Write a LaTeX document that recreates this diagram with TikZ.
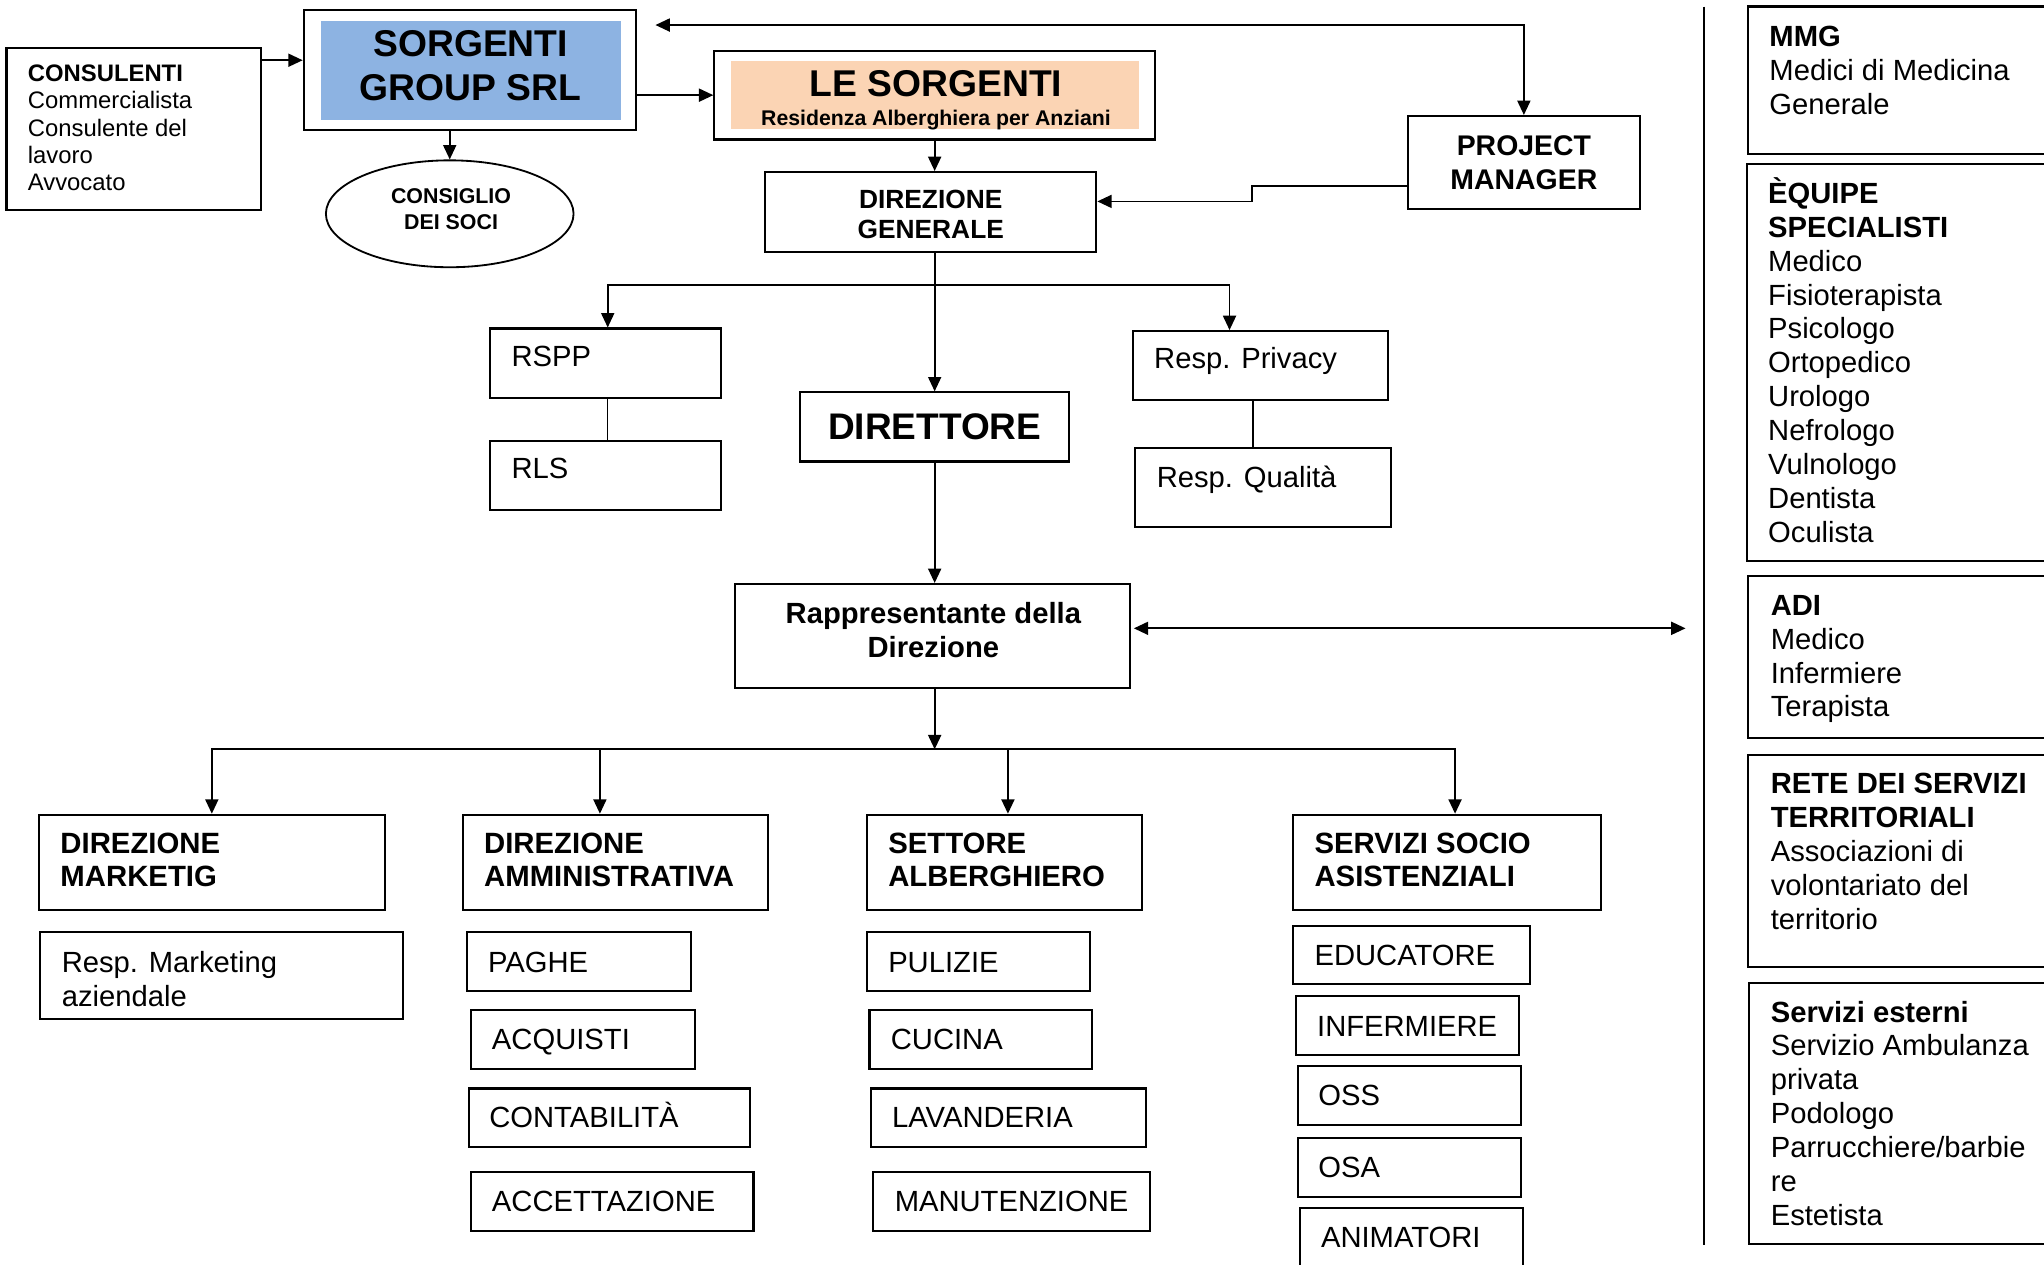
\documentclass[tikz,border=0pt]{standalone}
\usepackage{fontspec}
\setmainfont{Liberation Sans}
\usetikzlibrary{arrows.meta,calc,fit,shapes.geometric}
\definecolor{sgblue}{HTML}{8DB3E2}
\definecolor{sgpeach}{HTML}{FBD4B4}
\newcommand{\fs}[2]{\fontsize{#1pt}{#2pt}\selectfont}
\begin{document}
\begin{tikzpicture}[x=0.5pt,y=-0.5pt,
  box/.style={draw, line width=0.8pt, inner sep=0pt},
  fillbox/.style={inner sep=0pt, draw=none},
  tl/.style={anchor=base west, inner sep=0pt, align=left, font=\fs{11.2}{13}},
  tc/.style={anchor=base, inner sep=0pt, align=center},
  hd/.style={anchor=base west, inner sep=0pt, align=left, font=\bfseries\fs{11.25}{12.5}},
  arr/.style={-{Triangle[length=5.5pt,width=5pt]}, line width=0.65pt},
  darr/.style={{Triangle[length=5.5pt,width=5pt]}-{Triangle[length=5.5pt,width=5pt]}, line width=0.65pt},
  link/.style={line width=0.5pt}]
\useasboundingbox (0,0) rectangle (1568,970);

% top-left (text anchors are at the baseline of the LAST line)
\node[box, fit={(5,37) (200,161)}] (cons) {};
\node[tl, font=\fs{9.15}{10.5}] (consT) at (21,146.5) {\textbf{CONSULENTI}\\Commercialista\\Consulente del\\lavoro\\Avvocato};

\node[box, fit={(233,8) (488,100)}] (sgo) {};
\node[fillbox, fill=sgblue, fit={(246,16) (476,92)}] (sgi) {};
\node[tc, font=\bfseries\fs{14.3}{17}] (sgT) at (361,77) {SORGENTI\\GROUP SRL};

\node[draw, ellipse, line width=0.7pt, minimum width=95pt, minimum height=41pt, inner sep=0pt] (soci) at (345,164) {};
\node[tc, font=\bfseries\fs{8.2}{10}] (sociT) at (346,176) {CONSIGLIO\\DEI SOCI};

\node[box, fit={(548,39) (886,107)}] (leo) {};
\node[fillbox, fill=sgpeach, fit={(561,47) (874,99)}] (lei) {};
\node[tc, font=\bfseries\fs{14.3}{17}] (leT1) at (718,74) {LE SORGENTI};
\node[tc, font=\bfseries\fs{8.15}{10}] (leT2) at (718,96) {Residenza Alberghiera per Anziani};

\node[box, fit={(1080,89) (1258,160)}] (pm) {};
\node[tc, font=\bfseries\fs{10.9}{13}] (pmT) at (1169,145) {PROJECT\\MANAGER};

\node[box, fit={(587,132) (841,193)}] (dg) {};
\node[tc, font=\bfseries\fs{10.1}{11.5}] (dgT) at (714,183) {DIREZIONE\\GENERALE};

% staff
\node[box, fit={(376,252) (553,305)}] (rspp) {};
\node[tl] (rsppT) at (392,281) {RSPP};
\node[box, fit={(376,338) (553,391)}] (rls) {};
\node[tl] (rlsT) at (392,367) {RLS};
\node[box, fit={(869,254) (1065,307)}] (priv) {};
\node[tl] (privT) at (885,283) {Resp. Privacy};
\node[box, fit={(871,344) (1067,404)}] (qual) {};
\node[tl] (qualT) at (887,374) {Resp. Qualità};

\node[box, fit={(614,301) (820,354)}] (dir) {};
\node[tc, font=\bfseries\fs{14.2}{17}] (dirT) at (717,337) {DIRETTORE};

\node[box, fit={(564,448) (867,528)}] (rap) {};
\node[tc, font=\bfseries\fs{11.2}{13}] (rapT) at (716,504) {Rappresentante della\\Direzione};

% bottom headers
\node[box, fit={(30,625) (295,698)}] (dm) {};
\node[hd] (dmT) at (46,680) {DIREZIONE\\MARKETIG};
\node[box, fit={(355,625) (589,698)}] (da) {};
\node[hd] (daT) at (371,680) {DIREZIONE\\AMMINISTRATIVA};
\node[box, fit={(665,625) (876,698)}] (sa) {};
\node[hd] (saT) at (681,680) {SETTORE\\ALBERGHIERO};
\node[box, fit={(992,625) (1228,698)}] (ss) {};
\node[hd] (ssT) at (1008,680) {SERVIZI SOCIO\\ASISTENZIALI};

% sub boxes
\node[box, fit={(31,715) (309,782)}] (rm) {};
\node[tl] (rmT) at (47,772) {Resp. Marketing\\aziendale};
\node[box, fit={(358,715) (530,760)}] (paghe) {};
\node[tl] (pagheT) at (374,746) {PAGHE};
\node[box, fit={(361,775) (533,820)}] (acq) {};
\node[tl] (acqT) at (377,805) {ACQUISTI};
\node[box, fit={(360,835) (575,880)}] (cont) {};
\node[tl] (contT) at (375,865) {CONTABILITÀ};
\node[box, fit={(361,899) (578,944)}] (acc) {};
\node[tl] (accT) at (377,929) {ACCETTAZIONE};

\node[box, fit={(665,715) (836,760)}] (pul) {};
\node[tl] (pulT) at (681,746) {PULIZIE};
\node[box, fit={(667,775) (838,820)}] (cuc) {};
\node[tl] (cucT) at (683,805) {CUCINA};
\node[box, fit={(668,835) (879,880)}] (lav) {};
\node[tl] (lavT) at (684,865) {LAVANDERIA};
\node[box, fit={(670,899) (882,944)}] (man) {};
\node[tl] (manT) at (686,929) {MANUTENZIONE};

\node[box, fit={(992,710) (1174,755)}] (edu) {};
\node[tl] (eduT) at (1008,741) {EDUCATORE};
\node[box, fit={(994,764) (1165,809)}] (inf) {};
\node[tl] (infT) at (1010,795) {INFERMIERE};
\node[box, fit={(996,818) (1167,863)}] (oss) {};
\node[tl] (ossT) at (1011,848) {OSS};
\node[box, fit={(996,873) (1167,918)}] (osa) {};
\node[tl] (osaT) at (1011,903) {OSA};
\node[box, fit={(997,927) (1168,990)}] (ani) {};
\node[tl] (aniT) at (1013,957) {ANIMATORI};

% right column
\coordinate (vtop) at (1307,5);
\coordinate (vbot) at (1307,955);
\draw[line width=0.7pt] (vtop) -- (vbot);

\node[box, fit={(1341,5) (1580,118)}] (mmg) {};
\node[tl] (mmgT) at (1357,88) {\textbf{MMG}\\Medici di Medicina\\Generale};
\node[box, fit={(1340,126) (1580,430)}] (equ) {};
\node[tl] (equT) at (1356,416) {\textbf{ÈQUIPE}\\\textbf{SPECIALISTI}\\Medico\\Fisioterapista\\Psicologo\\Ortopedico\\Urologo\\Nefrologo\\Vulnologo\\Dentista\\Oculista};
\node[box, fit={(1341,442) (1580,566)}] (adi) {};
\node[tl] (adiT) at (1358,550) {\textbf{ADI}\\Medico\\Infermiere\\Terapista};
\node[box, fit={(1341,579) (1580,742)}] (rete) {};
\node[tl] (reteT) at (1358,713) {\textbf{RETE DEI SERVIZI}\\\textbf{TERRITORIALI}\\Associazioni di\\volontariato del\\territorio};
\node[box, fit={(1342,754) (1580,954)}] (serv) {};
\node[tl] (servT) at (1358,940) {\textbf{Servizi esterni}\\Servizio Ambulanza\\privata\\Podologo\\Parrucchiere/barbie\\re\\Estetista};

% connectors
\coordinate (c1) at ($(cons.north east)+(0,10)$);
\draw[arr] (c1) -- (c1 -| sgo.west);
\draw[arr] (sgo.east |- leo.west) -- (leo.west);
\draw[arr] (sgo.south -| soci.north) -- (soci.north);

\coordinate (c2) at ($(sgo.north east)+(14,12)$);
\draw[darr] (c2) -| (pm.north);

\coordinate (c3) at ($(pm.south west)+(0,-18)$);
\coordinate (c5) at ($(dg.east)+(0,-8)$);
\draw[arr] (c3) -| ($(c3)!0.5!(c5)$) |- (c5);

\draw[arr] (leo.south -| dir.north) -- (dg.north -| dir.north);
\draw[arr] (dg.south -| dir.north) -- (dir.north);

\coordinate (c6) at ($(dg.south -| dir.north)+(0,25)$);
\draw[arr] (c6) -| ($(rspp.north west)+(91,0)$);
\draw[arr] (c6) -| ($(priv.north west)+(75,0)$);
\coordinate (c10) at ($(rspp.south west)+(91,0)$);
\draw[link] (c10) -- (c10 |- rls.north);
\coordinate (c9) at ($(priv.south west)+(93,0)$);
\draw[link] (c9) -- (c9 |- qual.north);

\draw[arr] (dir.south) -- (dir.south |- rap.north);

\coordinate (c7) at ($(rap.east)+(2,-6)$);
\coordinate (c7r) at ($(c7 -| vtop)+(-14,0)$);
\draw[darr] (c7) -- (c7r);

\coordinate (c8) at ($(dir.south |- rap.south)+(0,46)$);
\draw[arr] (dir.south |- rap.south) -- (c8);
\draw[arr] (c8) -| (dm.north);
\draw[arr] (c8) -| ($(da.north west)+(106,0)$);
\draw[arr] (c8) -| ($(sa.north west)+(109,0)$);
\draw[arr] (c8) -| ($(ss.north west)+(125,0)$);
\end{tikzpicture}
\end{document}
